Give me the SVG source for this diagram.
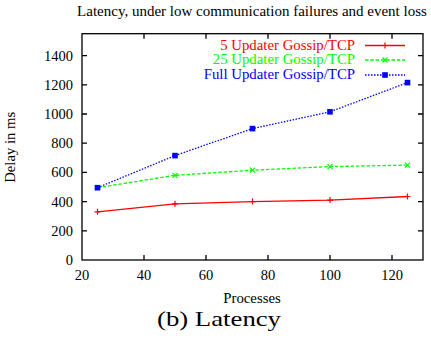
<svg xmlns="http://www.w3.org/2000/svg" width="431" height="338" viewBox="0 0 431 338" font-family="'Liberation Serif', 'DejaVu Serif', serif">
<style>
text{font-family:'Liberation Serif','DejaVu Serif',serif;fill:#000}
.tk{font-size:14.5px}
.lg{font-size:14.8px;text-anchor:end}
.ax{stroke:#000;stroke-width:1.3;fill:none}
.r{stroke:#f00;stroke-width:1.3;fill:none}
.g{stroke:#0f0;stroke-width:1.3;fill:none;stroke-dasharray:3.5 1.8}
.b{stroke:#00f;stroke-width:1.3;fill:none;stroke-dasharray:1.5 1.5}
</style>
<defs>
<path id="mp" d="M-3,0H3M0,-3V3" stroke="#f00" stroke-width="1.2"/>
<path id="mx" d="M-2.5,-2.5L2.5,2.5M-2.5,2.5L2.5,-2.5" stroke="#0f0" stroke-width="1.2"/>
<rect id="ms" x="-2.8" y="-2.8" width="5.6" height="5.6" fill="#00f"/>
</defs>
<text x="252" y="16" font-size="15" text-anchor="middle">Latency, under low communication failures and event loss</text>
<g id="axes">
<rect class="ax" x="82" y="33.7" width="341" height="226.3"/>
<path class="ax" d="M144,260v-5M206,260v-5M268,260v-5M330,260v-5M392,260v-5M144,33.7v5M206,33.7v5M268,33.7v5M330,33.7v5M392,33.7v5M82,230.8h5M82,201.6h5M82,172.4h5M82,143.2h5M82,114h5M82,84.8h5M82,55.6h5M423,230.8h-5M423,201.6h-5M423,172.4h-5M423,143.2h-5M423,114h-5M423,84.8h-5M423,55.6h-5"/>
<g class="tk" text-anchor="end">
<text x="73" y="265">0</text>
<text x="73" y="235.8">200</text>
<text x="73" y="206.6">400</text>
<text x="73" y="177.4">600</text>
<text x="73" y="148.2">800</text>
<text x="73" y="119">1000</text>
<text x="73" y="89.8">1200</text>
<text x="73" y="60.6">1400</text>
</g>
<g class="tk" text-anchor="middle">
<text x="82" y="279.5">20</text>
<text x="144" y="279.5">40</text>
<text x="206" y="279.5">60</text>
<text x="268" y="279.5">80</text>
<text x="330" y="279.5">100</text>
<text x="392" y="279.5">120</text>
</g>
<text x="252" y="302.7" font-size="14.8" text-anchor="middle">Processes</text>
<text transform="translate(15,147.3) rotate(-90)" font-size="14.7" text-anchor="middle">Delay in ms</text>
</g>
<g id="connectors">
<polyline id="s5" class="r" points="97.5,211.8 175,203.8 252.5,201.6 330,200.1 407.5,196.5"/>
<polyline id="s25" class="g" points="97.5,187.7 175,175.3 252.5,170.2 330,166.6 407.5,165.1"/>
<polyline id="sfull" class="b" points="97.5,187.7 175,155.6 252.5,128.6 330,111.8 407.5,82.6"/>
<line class="r" x1="365" y1="45.5" x2="405" y2="45.5"/>
<line class="g" x1="365" y1="60" x2="405" y2="60"/>
<line class="b" x1="365" y1="75" x2="405" y2="75"/>
</g>
<g id="markers-5">
<use href="#mp" x="97.5" y="211.8"/><use href="#mp" x="175" y="203.8"/><use href="#mp" x="252.5" y="201.6"/><use href="#mp" x="330" y="200.1"/><use href="#mp" x="407.5" y="196.5"/><use href="#mp" x="385" y="45.5"/>
</g>
<g id="markers-25">
<use href="#mx" x="97.5" y="187.7"/><use href="#mx" x="175" y="175.3"/><use href="#mx" x="252.5" y="170.2"/><use href="#mx" x="330" y="166.6"/><use href="#mx" x="407.5" y="165.1"/><use href="#mx" x="385" y="60"/>
</g>
<g id="markers-full">
<use href="#ms" x="97.5" y="187.7"/><use href="#ms" x="175" y="155.6"/><use href="#ms" x="252.5" y="128.6"/><use href="#ms" x="330" y="111.8"/><use href="#ms" x="407.5" y="82.6"/><use href="#ms" x="385" y="75"/>
</g>
<g id="legend">
<text class="lg" x="355" y="49.5" style="fill:#f00">5 Updater Gossip/TCP</text>
<text class="lg" x="355" y="64.3" style="fill:#0f0">25 Updater Gossip/TCP</text>
<text class="lg" x="355" y="79.3" style="fill:#00f">Full Updater Gossip/TCP</text>
</g>
<text x="157" y="326" font-size="22" textLength="124" lengthAdjust="spacingAndGlyphs">(b) Latency</text>
</svg>
